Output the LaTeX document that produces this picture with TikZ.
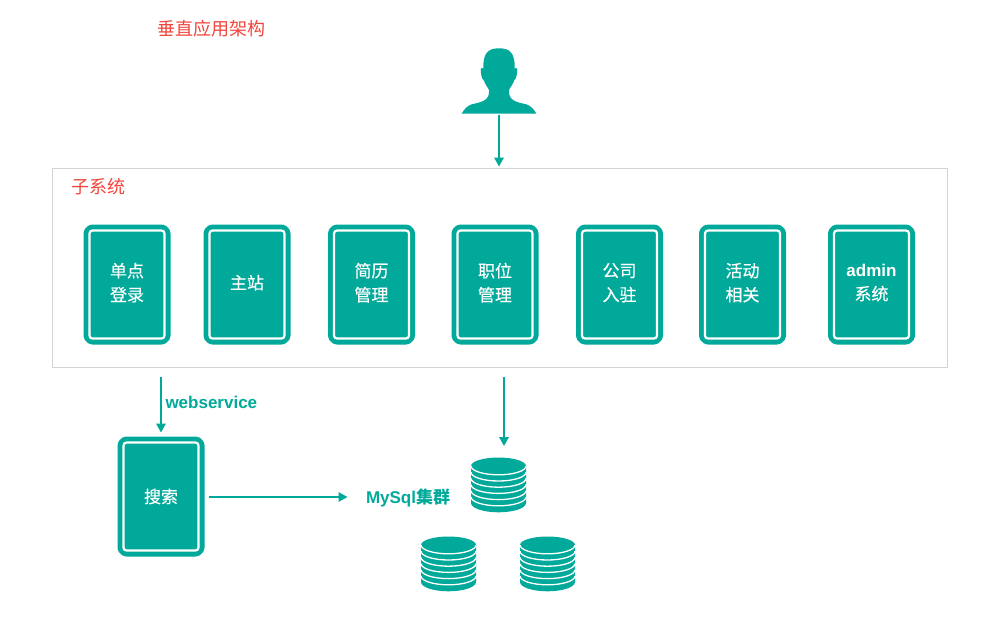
\documentclass[tikz,border=0pt]{standalone}
\usepackage{fontspec}
\setmainfont{Liberation Sans}
\newfontfamily\cjk{Noto Sans CJK SC}
\newfontfamily\cjkmed[FakeBold=0.35]{Noto Sans CJK SC}
\usetikzlibrary{arrows.meta,positioning}
\definecolor{boxteal}{RGB}{0,169,153}
\definecolor{titlered}{RGB}{240,70,60}
\newcommand{\arrowsize}{1.7pt}
\tikzset{
  appbox/.style={rectangle, fill=boxteal, draw=white, line width=2.2pt, rounded corners=3pt,
    minimum width=75pt, minimum height=108pt, outer sep=0pt, align=center, text=white,
    font=\cjkmed\fontsize{17}{24}\selectfont,
    preaction={draw=boxteal, line width=12pt, line join=round}},
  raised/.style={execute at end node={\rule[-5pt]{0pt}{1pt}}},
  flow/.style={draw=boxteal, line width=\arrowsize, -{Triangle[length=9pt,width=9.5pt]}},
  redtitle/.style={text=titlered, font=\cjk\fontsize{18}{22}\selectfont, inner sep=0pt, outer sep=0pt},
  teallabel/.style={text=boxteal, font=\bfseries\fontsize{17}{20}\selectfont, inner sep=0pt, outer sep=0pt},
  pics/dbstack/.style={code={
    \fill[boxteal] (-27.5,-19) -- (27.5,-19) -- (27.5,18) arc[start angle=0,end angle=180,x radius=27.5,y radius=9.3] -- cycle;
    \fill[boxteal] (0,-19) ellipse[x radius=27.5,y radius=8.5];
    \foreach \k in {0,...,5}
      \draw[white, line width=1.3pt] (-27.5,-19+6.2*\k) arc[start angle=180,end angle=0,x radius=27.5,y radius=8.8];
  }}
}
\begin{document}
\begin{tikzpicture}[x=1pt,y=-1pt]
\useasboundingbox (0,0) rectangle (1000,622);
\node[redtitle] (title) at (211,29) {垂直应用架构};
% user
\fill[boxteal] (461.7,113.5) .. controls (465,108) and (468,105.5) .. (472,104.2) .. controls (480,102.5) and (489,101) .. (489,92)
  -- (489,90) .. controls (487.5,87) and (485,84) .. (483.6,80) .. controls (481.5,79) and (481,74) .. (480.7,69.5)
  .. controls (481,67.5) and (482.5,67.5) .. (483.3,68.5) .. controls (483,53) and (488,48.3) .. (499,48.3)
  .. controls (510,48.3) and (515,53) .. (514.7,68.5) .. controls (515.5,67.5) and (517,67.5) .. (517.3,69.5)
  .. controls (517,74) and (516.5,79) .. (514.4,80) .. controls (513,84) and (510.5,87) .. (509,90)
  -- (509,92) .. controls (509,101) and (518,102.5) .. (526,104.2) .. controls (530,105.5) and (533,108) .. (536.3,113.5) -- cycle;
\coordinate (user) at (499,115);
% subsystem frame
\node[draw=black!17, line width=1pt, minimum width=895pt, minimum height=199pt, outer sep=0pt] (subsys) at (500,267.5) {};
\node[redtitle, anchor=west] (subsystitle) at (71,186.5) {子系统};
\node[appbox, raised] (sso) at (127,284.5) {单点\\登录};
\node[appbox, raised] (portal) at (247,284.5) {主站};
\node[appbox, raised] (resume) at (371.5,284.5) {简历\\管理};
\node[appbox, raised] (job) at (495,284.5) {职位\\管理};
\node[appbox, raised] (company) at (619.5,284.5) {公司\\入驻};
\node[appbox, raised] (activity) at (742.5,284.5) {活动\\相关};
\node[appbox, raised] (admin) at (871.5,284.5) {{\rmfamily\bfseries admin}\\系统};
\draw[flow, shorten >=1.5pt] (user) -- (user |- subsys.north);
% lower part
\node[appbox] (search) at (161,496.5) {搜索};
\coordinate (mysqlin) at (504,367);
\draw[flow, shorten <=10pt, shorten >=10pt] (subsys.south -| search.north) -- (search.north);
\node[teallabel, anchor=west] (wslabel) at (165.5,402.5) {webservice};
\node[teallabel, anchor=west] (mysqllabel) at (366,497.5) {MySql{\cjk 集群}};
\draw[flow] (209,497) -- (347.5,497);
\coordinate (db1top) at (504,446);
\draw[flow, shorten <=10pt] (mysqlin) -- (db1top);
\pic at (498.5,485) {dbstack};
\pic at (448.5,564) {dbstack};
\pic at (547.5,564) {dbstack};
\end{tikzpicture}
\end{document}
